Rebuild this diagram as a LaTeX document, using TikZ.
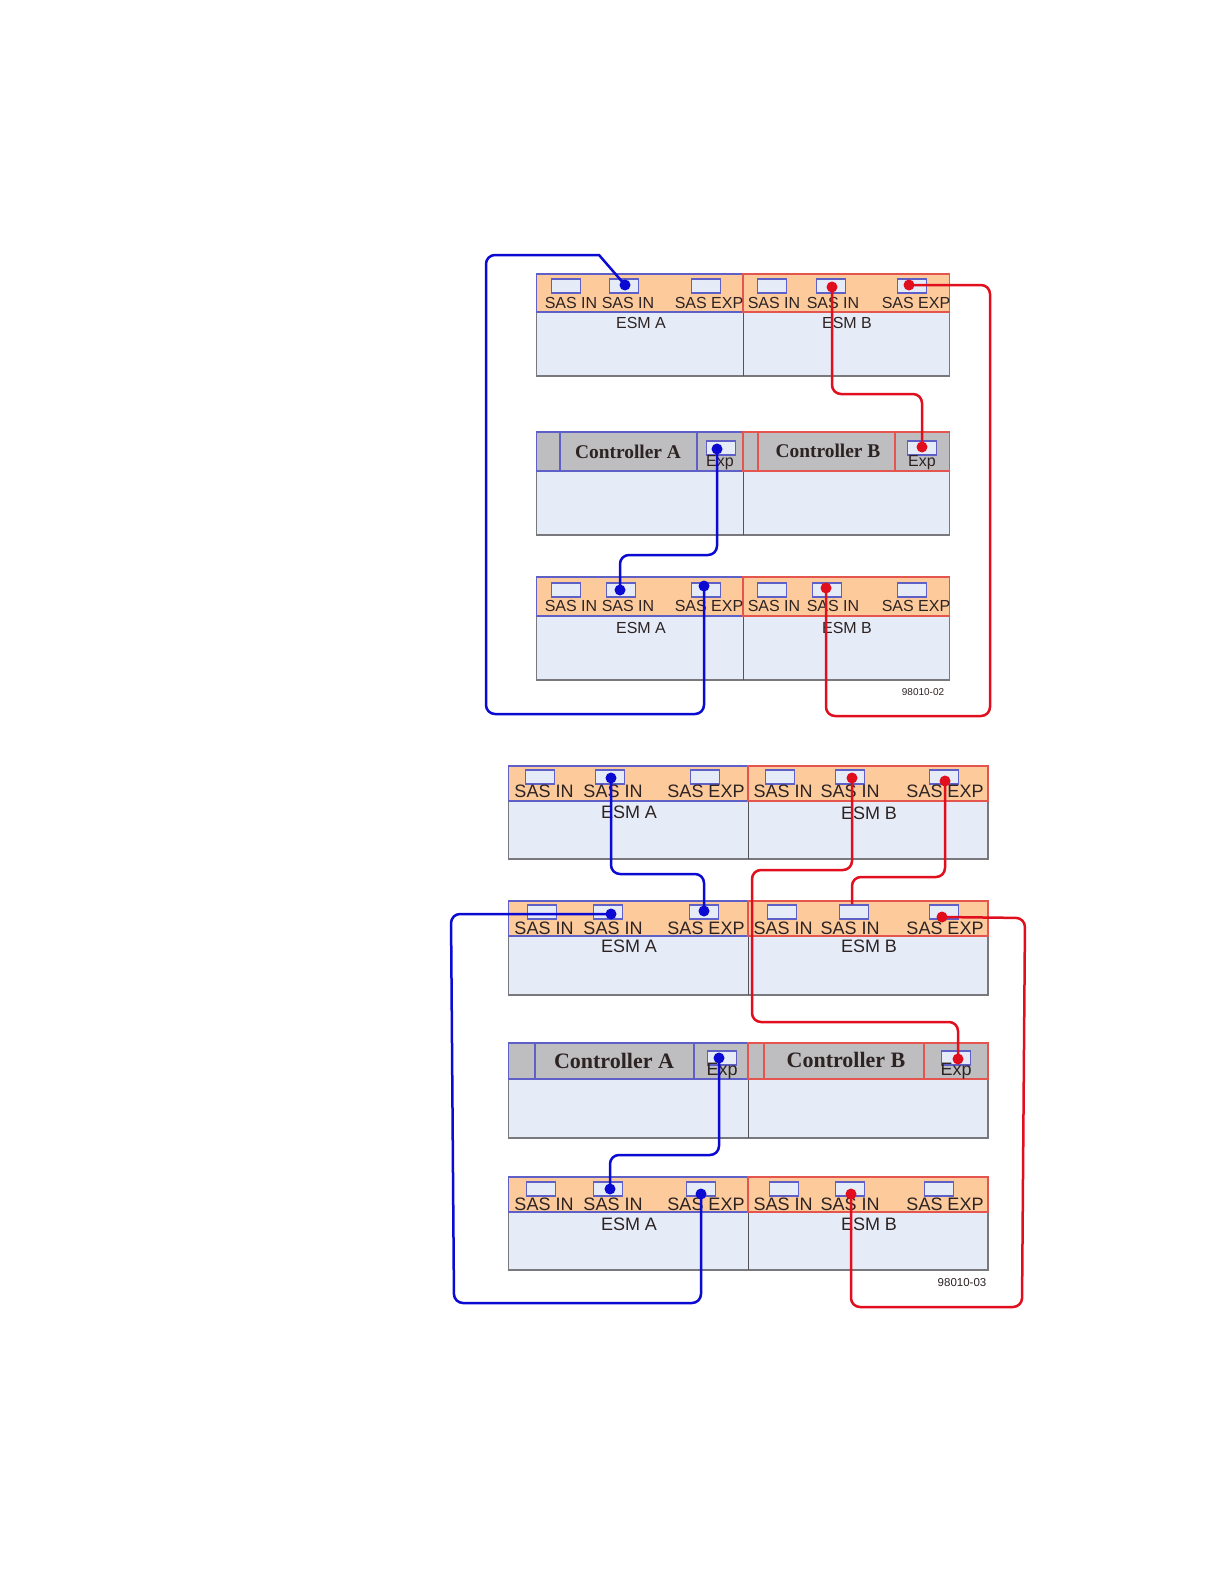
\documentclass[tikz,border=0pt]{standalone}
\usepackage{fontspec}
\setmainfont{Liberation Sans}
\newfontfamily\serifbold[BoldFont={Liberation Serif Bold}]{Liberation Serif}
\usepackage{xcolor}
\usepackage{tikz}
\definecolor{bandorange}{RGB}{252, 202, 155}
\definecolor{bodyblue}{RGB}{230, 235, 248}
\definecolor{ctrlgray}{RGB}{190, 190, 192}
\definecolor{edgegray}{RGB}{120, 120, 125}
\definecolor{edgeblue}{RGB}{95, 95, 200}
\definecolor{edgered}{RGB}{228, 85, 80}
\definecolor{cableblue}{RGB}{10, 10, 210}
\definecolor{cablered}{RGB}{225, 15, 30}
\definecolor{inktext}{RGB}{45, 35, 35}
\tikzset{
  portbox/.style={draw=edgeblue, fill=bodyblue, line width=1.1pt, minimum width=29pt, minimum height=14pt, inner sep=0pt},
  textsmall/.style={font=\fontsize{16}{16}\selectfont, text=inktext, inner sep=0pt},
  textbig/.style={font=\fontsize{18}{18}\selectfont, text=inktext, inner sep=0pt},
  bluecable/.style={draw=cableblue, line width=2.5pt, rounded corners=9pt},
  redcable/.style={draw=cablered, line width=2.5pt, rounded corners=9pt},
  bluedot/.style={circle, fill=cableblue, minimum size=11pt, inner sep=0pt},
  reddot/.style={circle, fill=cablered, minimum size=11pt, inner sep=0pt},
}
% left, mid, right, top, band bottom, bottom, band colour
\newcommand{\shelfbody}[7]{
  \fill[bodyblue] (#1,#4) rectangle (#3,#6);
  \fill[#7] (#1,#4) rectangle (#3,#5);
  \draw[edgegray, line width=1.3pt] (#1,#5) -- (#1,#6) -- (#3,#6) -- (#3,#5);
  \draw[edgegray!70!black, line width=1pt] (#2,#4) -- (#2,#6);
  \draw[edgeblue, line width=1.2pt] (#1,#4) rectangle (#2,#5);
  \draw[edgered, line width=1.2pt] (#2,#4) rectangle (#3,#5);
}
% name, y, six x positions, text style
\newcommand{\sasrow}[9]{
  \foreach \n/\x/\t in {1/#3/SAS IN, 2/#4/SAS IN, 3/#5/SAS EXP, 4/#6/SAS IN, 5/#7/SAS IN, 6/#8/SAS EXP}
    \node[#9] (#1\n) at (\x,#2) {\t};
}
\newcommand{\portrow}[8]{
  \foreach \n/\x in {1/#3, 2/#4, 3/#5, 4/#6, 5/#7, 6/#8}
    \node[portbox] (#1\n) at (\x,#2) {};
}
\begin{document}
\begin{tikzpicture}[x=1pt, y=-1pt]
  \useasboundingbox (0,0) rectangle (1224,1584);

  % Upper picture: shelves
  \shelfbody{536.5}{743}{949.5}{274}{312}{376}{bandorange}
  \shelfbody{536.5}{743}{949.5}{432}{471}{535}{ctrlgray}
  \shelfbody{536.5}{743}{949.5}{577}{616}{680}{bandorange}
  \draw[edgeblue, line width=1.2pt] (560,432) rectangle (697,471);
  \draw[edgered, line width=1.2pt] (758,432) rectangle (895,471);

  \portrow{upa}{286}{566}{624}{706}{772}{831}{912}
  \portrow{upc}{590}{566}{621}{706}{772}{827}{912}
  \node[portbox] (upexpa) at (721,448) {};
  \node[portbox] (upexpb) at (922,448) {};

  \sasrow{upla}{303}{571}{628}{709}{774}{833}{916}{textsmall}
  \sasrow{uplc}{606}{571}{628}{709}{774}{833}{916}{textsmall}
  \node[textsmall] (upesma) at (641,323) {ESM A};
  \node[textsmall] (upesmb) at (847,323) {ESM B};
  \node[textsmall] (upesmc) at (641,628) {ESM A};
  \node[textsmall] (upesmd) at (847,628) {ESM B};
  \node[font=\serifbold\bfseries\fontsize{19.4}{20}\selectfont, text=inktext] (upctrla) at (628,452) {Controller A};
  \node[font=\serifbold\bfseries\fontsize{19.4}{20}\selectfont, text=inktext] (upctrlb) at (828,451) {Controller B};
  \node[textsmall] (uplexpa) at (720,463) {Exp};
  \node[textsmall] (uplexpb) at (922,463) {Exp};
  \node[font=\fontsize{10}{10}\selectfont, text=inktext] (upcode) at (923,692) {98010-02};

  % Upper picture: cables
  \node[bluedot] (d1) at (625,285) {};
  \node[bluedot] (d2) at (704,586) {};
  \node[bluedot] (d3) at (717,449) {};
  \node[bluedot] (d4) at (620,590) {};
  \node[reddot] (d5) at (832,287) {};
  \node[reddot] (d6) at (922,447) {};
  \node[reddot] (d7) at (909,285) {};
  \node[reddot] (d8) at (826,588) {};
  \draw[bluecable] (d1.center) [sharp corners] -- (599,255) -- (560,255) [rounded corners=9pt] -- (486,255) -- (486,714) -- (704,714) -- (d2.center);
  \draw[bluecable] (d3.center) -- (717,555) -- (620,555) -- (d4.center);
  \draw[redcable] (d5.center) -- (832,394) -- (922,394) -- (d6.center);
  \draw[redcable] (d7.center) -- (990,285) -- (990,716) -- (826,716) -- (d8.center);

  % Lower picture: shelves
  \shelfbody{508.5}{748}{988}{766}{801}{859}{bandorange}
  \shelfbody{508.5}{748}{988}{901}{936}{995}{bandorange}
  \shelfbody{508.5}{748}{988}{1043}{1079}{1138}{ctrlgray}
  \shelfbody{508.5}{748}{988}{1177}{1212}{1270}{bandorange}
  \draw[edgeblue, line width=1.2pt] (535,1043) rectangle (694,1079);
  \draw[edgered, line width=1.2pt] (764,1043) rectangle (924,1079);

  \portrow{loa}{777}{540}{610}{705}{780}{850}{944}
  \portrow{lob}{912}{542}{608}{704}{782}{854}{944}
  \portrow{lod}{1189}{541}{608}{701}{784}{850}{939}
  \node[portbox] (loexpa) at (722,1058) {};
  \node[portbox] (loexpb) at (956,1058) {};

  \sasrow{lola}{791}{544}{613}{706}{783}{850}{945}{textbig}
  \sasrow{lolb}{928}{544}{613}{706}{783}{850}{945}{textbig}
  \sasrow{lold}{1204}{544}{613}{706}{783}{850}{945}{textbig}
  \node[textbig] (loesma) at (629,812) {ESM A};
  \node[textbig] (loesmb) at (869,813) {ESM B};
  \node[textbig] (loesmc) at (629,946) {ESM A};
  \node[textbig] (loesmd) at (869,946) {ESM B};
  \node[textbig] (loesme) at (629,1224) {ESM A};
  \node[textbig] (loesmf) at (869,1224) {ESM B};
  \node[font=\serifbold\bfseries\fontsize{22}{22}\selectfont, text=inktext] (loctrla) at (614,1061) {Controller A};
  \node[font=\serifbold\bfseries\fontsize{22}{22}\selectfont, text=inktext] (loctrlb) at (846,1060) {Controller B};
  \node[textbig] (lolexpa) at (722,1071) {Exp};
  \node[textbig] (lolexpb) at (956,1071) {Exp};
  \node[font=\fontsize{11.5}{12}\selectfont, text=inktext] (locode) at (962,1283) {98010-03};

  % Lower picture: cables
  \node[bluedot] (e1) at (611,778) {};
  \node[bluedot] (e2) at (704,911) {};
  \node[bluedot] (e3) at (611,914) {};
  \node[bluedot] (e4) at (701,1194) {};
  \node[bluedot] (e5) at (719,1058) {};
  \node[bluedot] (e6) at (610,1189) {};
  \node[reddot] (e7) at (852,778) {};
  \node[reddot] (e8) at (958,1059) {};
  \node[reddot] (e9) at (945,781) {};
  \node[reddot] (e10) at (942,917) {};
  \node[reddot] (e11) at (851,1194) {};
  \draw[bluecable] (e1.center) -- (611,874) -- (704,874) -- (e2.center);
  \draw[bluecable] (e3.center) -- (451,914) -- (454,1303) -- (701,1303) -- (e4.center);
  \draw[bluecable] (e5.center) -- (719,1155) -- (610,1155) -- (e6.center);
  \draw[redcable] (e7.center) -- (852,870) -- (752,870) -- (752,1022) -- (958,1022) -- (e8.center);
  \draw[redcable] (e9.center) -- (945,877) -- (852,877) -- (lob5.north -| 852,0);
  \draw[redcable] (e10.center) -- (1025,918) -- (1022,1307) -- (851,1307) -- (e11.center);
\end{tikzpicture}
\end{document}
